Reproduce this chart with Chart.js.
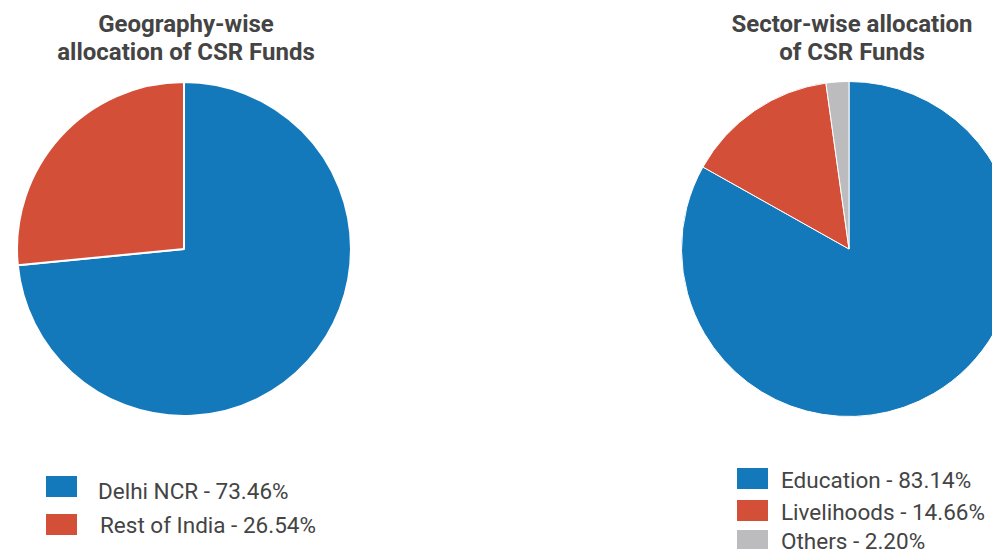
<!DOCTYPE html>
<html>
<head>
<meta charset="utf-8">
<script src="https://cdn.jsdelivr.net/npm/chart.js@4"></script>
<style>
  html, body { margin: 0; padding: 0; background: #fff; }
  #page { position: relative; width: 992px; height: 549px; overflow: hidden; font-family: Roboto, sans-serif; color: #444; }
  .title { position: absolute; top: 10px; width: 340px; text-align: center; font-weight: bold; font-size: 24px; line-height: 28px; color: #444; }
  .pie { position: absolute; top: 81px; width: 336px; height: 336px; }
  .legend { position: absolute; top: 0; font-size: 22.5px; line-height: 26px; color: #444; }
  .legend .box { position: absolute; width: 31px; height: 21px; }
  .legend .txt { position: absolute; white-space: nowrap; }
</style>
</head>
<body>
<div id="page">
  <div class="title" style="left: 16px;">Geography-wise<br>allocation of CSR Funds</div>
  <div class="title" style="left: 682px;">Sector-wise allocation<br>of CSR Funds</div>
  <div class="pie" style="left: 16px;"><canvas id="geo"></canvas></div>
  <div class="pie" style="left: 681px;"><canvas id="sector"></canvas></div>
  <div class="legend" id="geo-legend" style="left: 46px;"></div>
  <div class="legend" id="sector-legend" style="left: 737px;"></div>
</div>
<script>
// Geography split
const geoLabels = ['Delhi NCR', 'Rest of India'];
const geoValues = [73.46, 26.54];
const geoColors = ['#1479bb', '#d44f38'];

// Sector split
const sectorLabels = ['Education', 'Livelihoods', 'Others'];
const sectorValues = [83.14, 14.66, 2.20];
const sectorColors = ['#1479bb', '#d44f38', '#bcbcbe'];

function makePie(id, labels, values, colors, border) {
    const ctx = document.getElementById(id).getContext('2d');
    return new Chart(ctx, {
        type: 'pie',
        data: {
            labels: labels,
            datasets: [{
                data: values,
                backgroundColor: colors,
                borderColor: '#ffffff',
                borderWidth: border
            }]
        },
        options: {
            responsive: true,
            maintainAspectRatio: false,
            animation: false,
            plugins: {
                legend: { display: false },
                tooltip: { enabled: false }
            }
        }
    });
}

// legend rows built from the same arrays
// layout: [box top, text left, text top] per row
function makeLegend(id, labels, values, colors, layout) {
    const el = document.getElementById(id);
    labels.forEach((label, i) => {
        const [boxTop, txtLeft, txtTop] = layout[i];
        const box = document.createElement('div');
        box.className = 'box';
        box.style.top = boxTop + 'px';
        box.style.background = colors[i];
        const txt = document.createElement('div');
        txt.className = 'txt';
        txt.style.left = txtLeft + 'px';
        txt.style.top = txtTop + 'px';
        txt.textContent = label + ' - ' + values[i].toFixed(2) + '%';
        el.appendChild(box);
        el.appendChild(txt);
    });
}

makePie('geo', geoLabels, geoValues, geoColors, 2);
makePie('sector', sectorLabels, sectorValues, sectorColors, 1);
makeLegend('geo-legend', geoLabels, geoValues, geoColors, [[476, 52, 478], [514, 54, 512]]);
makeLegend('sector-legend', sectorLabels, sectorValues, sectorColors, [[468, 44, 467], [500, 44, 499], [530, 44, 528]]);
</script>
</body>
</html>
